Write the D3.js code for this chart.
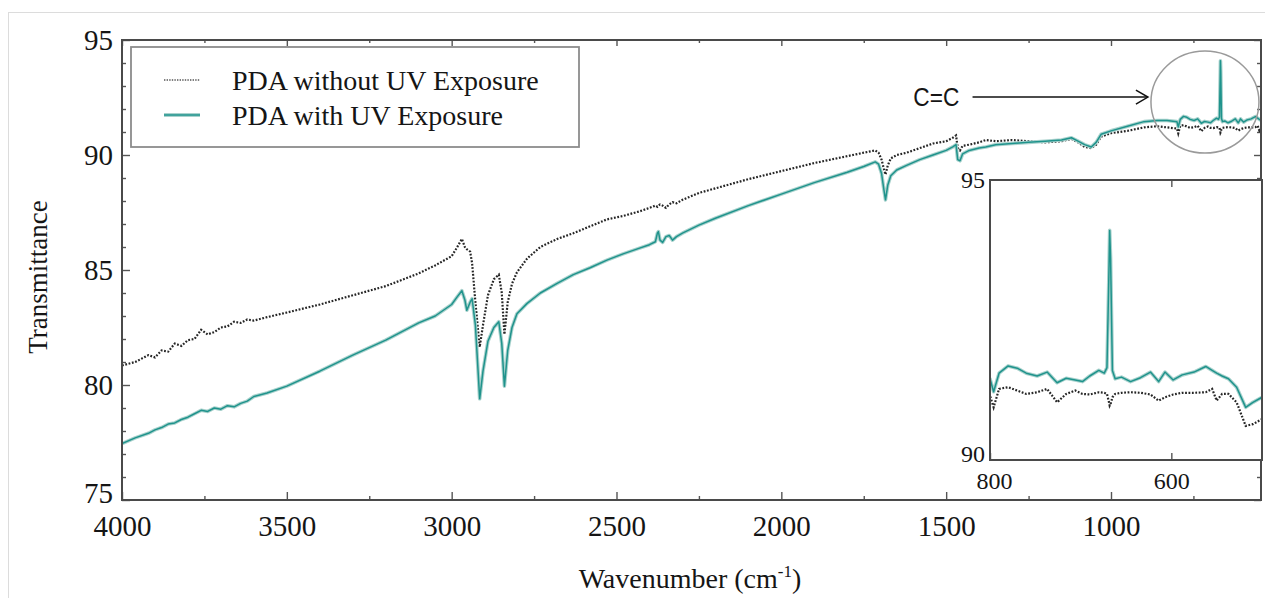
<!DOCTYPE html>
<html>
<head>
<meta charset="utf-8">
<script src="https://cdn.jsdelivr.net/npm/d3@7"></script>
<style>
  body { margin: 0; background: #fff; }
  svg { display: block; }
  svg text { font-family: "Liberation Serif", "Times New Roman", serif !important; fill: #151515; }
  svg text.sans { font-family: "Liberation Sans", Arial, sans-serif !important; }
</style>
</head>
<body>
<div id="chart"></div>
<script>
// FTIR spectra (cm-1 -> % transmittance)
const wavenumber = [
  4000, 3960, 3920, 3900, 3880, 3860, 3840, 3820, 3800, 3780, 3760, 3740, 3720, 3700, 3680, 3660, 3640, 3620, 3600, 3560, 3500,
  3400, 3300, 3200, 3100, 3050, 3000, 2985, 2969, 2960, 2954, 2944, 2938, 2928, 2915, 2905, 2890, 2872, 2857, 2848, 2840, 2830, 2817, 2802, 2771, 2731, 2680, 2631, 2580, 2529,
  2480, 2430, 2400, 2382, 2376, 2373, 2368, 2360, 2350, 2340, 2330, 2318, 2300, 2250, 2200, 2100, 2000, 1900, 1800,
  1750, 1715, 1705, 1696, 1689, 1684, 1677, 1668, 1650, 1620, 1580, 1540, 1500, 1480, 1470, 1465, 1458, 1450, 1430, 1400, 1380, 1350, 1300, 1250, 1200, 1150, 1120, 1100, 1080, 1060, 1045, 1030, 1000, 950, 900, 860, 830,
  800, 796, 790, 780, 770, 760, 748, 737, 726, 716, 706, 698, 690, 680, 674, 671, 669, 668, 667, 665, 662, 655, 645, 634, 623, 614, 607, 598, 588, 575, 562, 555, 550, 544, 537, 528, 518, 510, 500
];

const withoutUV = [
  80.85, 81.0, 81.3, 81.2, 81.5, 81.45, 81.8, 81.7, 81.95, 82.0, 82.4, 82.2, 82.3, 82.5, 82.55, 82.75, 82.7, 82.85, 82.8, 82.95, 83.15,
  83.5, 83.9, 84.3, 84.85, 85.2, 85.6, 85.95, 86.35, 86.0, 85.9, 85.8, 85.3, 83.6, 81.65, 82.6, 83.9, 84.6, 84.8, 84.0, 82.2, 83.6, 84.4, 84.9, 85.5, 86.0, 86.35, 86.6, 86.9, 87.2,
  87.35, 87.55, 87.7, 87.8, 87.75, 87.8, 87.85, 87.8, 87.7, 87.85, 87.95, 87.9, 88.05, 88.35, 88.55, 88.95, 89.3, 89.65, 89.95,
  90.1, 90.2, 90.1, 89.8, 89.4, 89.15, 89.55, 89.85, 90.0, 90.1, 90.3, 90.5, 90.6, 90.75, 90.85, 90.3, 90.2, 90.4, 90.45, 90.55, 90.65, 90.6, 90.65, 90.6, 90.55, 90.6, 90.7, 90.55, 90.35, 90.3, 90.45, 90.8, 90.95, 91.05, 91.2, 91.25, 91.2,
  91.15, 90.94, 91.27, 91.3, 91.24, 91.18, 91.21, 91.27, 91.03, 91.18, 91.24, 91.18, 91.17, 91.21, 91.2, 91.18, 91.05, 90.97, 91.0, 91.12, 91.18, 91.2, 91.21, 91.2, 91.17, 91.06, 91.12, 91.17, 91.2, 91.2, 91.21, 91.27, 91.06, 91.18, 91.18, 91.03, 90.61, 90.64, 90.73
];

const withUV = [
  77.45, 77.7, 77.9, 78.05, 78.15, 78.3, 78.35, 78.5, 78.6, 78.75, 78.9, 78.85, 79.0, 78.95, 79.1, 79.05, 79.2, 79.3, 79.5, 79.65, 79.95,
  80.6, 81.3, 81.95, 82.7, 83.0, 83.5, 83.8, 84.1, 83.7, 83.25, 83.6, 83.75, 82.6, 79.4, 80.6, 81.9, 82.5, 82.75, 81.8, 79.95, 81.5, 82.5, 83.1, 83.55, 84.0, 84.42, 84.8, 85.1, 85.43,
  85.7, 85.95, 86.1, 86.23, 86.6, 86.67, 86.3, 86.2, 86.45, 86.5, 86.3, 86.45, 86.6, 86.95, 87.25, 87.8, 88.3, 88.8, 89.25,
  89.5, 89.7, 89.6, 89.2, 88.5, 88.05, 88.7, 89.1, 89.35, 89.55, 89.8, 90.0, 90.2, 90.35, 90.45, 89.8, 89.75, 90.05, 90.2, 90.3, 90.35, 90.45, 90.5, 90.55, 90.6, 90.65, 90.75, 90.6, 90.45, 90.35, 90.55, 90.9, 91.05, 91.25, 91.45, 91.5, 91.5,
  91.45, 91.22, 91.55, 91.68, 91.64, 91.55, 91.5, 91.57, 91.38, 91.46, 91.43, 91.4, 91.5, 91.6, 91.55, 91.65, 93.2, 94.1, 93.6, 91.6, 91.45, 91.48, 91.4, 91.47, 91.57, 91.4, 91.57, 91.43, 91.52, 91.57, 91.67, 91.6, 91.55, 91.5, 91.45, 91.3, 90.94, 91.03, 91.12
];

const seriesNames = ["PDA without UV Exposure", "PDA with UV Exposure"];
const mainXLabels = [4000, 3500, 3000, 2500, 2000, 1500, 1000];
const mainYLabels = [75, 80, 85, 90, 95];
const insetXLabels = [800, 600];
const insetYLabels = [90, 95];
const bondLabel = "C=C";

const width = 1265;
const height = 598;
const plot = { left: 122, right: 1261, top: 40, bottom: 500 };
const inset = { left: 990, right: 1262, top: 180, bottom: 460 };
const teal = "#1f938c";
const tealHalo = "#a9d2cd";

const svg = d3
  .select("#chart")
  .append("svg")
  .attr("width", width)
  .attr("height", height)
  .attr("font-family", "Liberation Serif");

// light outer frame of the original figure
svg
  .append("rect")
  .attr("x", 8.5)
  .attr("y", 12.5)
  .attr("width", width)
  .attr("height", height)
  .attr("fill", "none")
  .attr("stroke", "#dcdcdc");

const x = d3.scaleLinear().domain([4000, 545]).range([plot.left, plot.right]);
const y = d3.scaleLinear().domain([75, 95]).range([plot.bottom, plot.top]);

const noUvData = d3.zip(wavenumber, withoutUV);
const uvData = d3.zip(wavenumber, withUV);

const defs = svg.append("defs");
defs
  .append("clipPath")
  .attr("id", "main-clip")
  .append("rect")
  .attr("x", plot.left)
  .attr("y", plot.top)
  .attr("width", plot.right - plot.left)
  .attr("height", plot.bottom - plot.top);
defs
  .append("clipPath")
  .attr("id", "inset-clip")
  .append("rect")
  .attr("x", inset.left)
  .attr("y", inset.top)
  .attr("width", inset.right - inset.left)
  .attr("height", inset.bottom - inset.top);

const drawSeries = (g, xs, ys, clipId) => {
  const line = d3
    .line()
    .x((d) => xs(d[0]))
    .y((d) => ys(d[1]));
  const lines = g.append("g").attr("clip-path", `url(#${clipId})`);
  lines
    .append("path")
    .datum(noUvData)
    .attr("d", line)
    .attr("fill", "none")
    .attr("stroke", "#262626")
    .attr("stroke-width", 2.2)
    .attr("stroke-dasharray", "1.8,1.6");
  lines
    .append("path")
    .datum(uvData)
    .attr("d", line)
    .attr("fill", "none")
    .attr("stroke", tealHalo)
    .attr("stroke-width", 3.6)
    .attr("stroke-linejoin", "round");
  lines
    .append("path")
    .datum(uvData)
    .attr("d", line)
    .attr("fill", "none")
    .attr("stroke", teal)
    .attr("stroke-width", 1.5)
    .attr("stroke-linejoin", "round");
};

// ---------- main axes ----------
const xTicks = d3.range(4000, 544, -250);
const yTicks = d3.range(75, 95.01, 1);

const styleAxis = (g) => {
  g.attr("font-family", null);
  g.select(".domain").remove();
  g.selectAll("line").attr("stroke", "#555").attr("stroke-width", 1.4);
  g.selectAll("text")
    .attr("font-size", 29)
    .attr("fill", "#151515")
    .attr("font-family", "Liberation Serif");
};

svg
  .append("g")
  .attr("transform", `translate(0,${plot.bottom})`)
  .call(
    d3
      .axisBottom(x)
      .tickValues(xTicks)
      .tickSize(-8)
      .tickPadding(13)
      .tickFormat((d) => (mainXLabels.includes(d) ? d : ""))
  )
  .call(styleAxis)
  .call((g) =>
    g
      .selectAll(".tick line")
      .attr("y2", (d) => (d % 500 === 0 ? -8 : -4))
  )
  .call((g) => g.selectAll("text").attr("dy", "0.78em"));

svg
  .append("g")
  .attr("transform", `translate(0,${plot.top})`)
  .call(d3.axisTop(x).tickValues(xTicks).tickSize(-6).tickFormat(""))
  .call(styleAxis)
  .call((g) =>
    g.selectAll(".tick line").attr("y2", (d) => (d % 500 === 0 ? 6 : 3))
  );

svg
  .append("g")
  .attr("transform", `translate(${plot.left},0)`)
  .call(
    d3
      .axisLeft(y)
      .tickValues(yTicks)
      .tickSize(-8)
      .tickPadding(9)
      .tickFormat((d) => (mainYLabels.includes(d) ? d : ""))
  )
  .call(styleAxis)
  .call((g) =>
    g.selectAll(".tick line").attr("x2", (d) => (d % 5 === 0 ? 8 : 4))
  )
  .call((g) =>
    g.selectAll("text").attr("dy", (d) => (d === 75 ? "0.1em" : "0.32em"))
  );

svg
  .append("g")
  .attr("transform", `translate(${plot.right},0)`)
  .call(d3.axisRight(y).tickValues(yTicks).tickSize(-4).tickFormat(""))
  .call(styleAxis)
  .call((g) =>
    g.selectAll(".tick line").attr("x2", (d) => (d % 5 === 0 ? -7 : -4))
  );

drawSeries(svg, x, y, "main-clip");

svg
  .append("rect")
  .attr("x", plot.left)
  .attr("y", plot.top)
  .attr("width", plot.right - plot.left)
  .attr("height", plot.bottom - plot.top)
  .attr("fill", "none")
  .attr("stroke", "#4a4a4a")
  .attr("stroke-width", 2);

// axis titles
svg
  .append("text")
  .attr("x", 690)
  .attr("y", 588)
  .attr("text-anchor", "middle")
  .attr("font-size", 28)
  .text("Wavenumber (cm")
  .call((t) =>
    t.append("tspan").attr("font-size", 17).attr("dy", -11).text("-1")
  )
  .call((t) => t.append("tspan").attr("dy", 11).text(")"));

svg
  .append("text")
  .attr("transform", "translate(47,277) rotate(-90)")
  .attr("text-anchor", "middle")
  .attr("font-size", 27)
  .text("Transmittance");

// ---------- legend ----------
const legend = svg.append("g").attr("transform", "translate(131,47)");
legend
  .append("rect")
  .attr("width", 448)
  .attr("height", 100)
  .attr("fill", "#fff")
  .attr("stroke", "#8c8c8c")
  .attr("stroke-width", 1.8);

const legendRows = legend
  .selectAll(".row")
  .data(seriesNames)
  .join("g")
  .attr("class", "row")
  .attr("transform", (d, i) => `translate(0,${33 + i * 35})`);

legendRows
  .filter((d, i) => i === 0)
  .append("line")
  .attr("x1", 33)
  .attr("x2", 69)
  .attr("stroke", "#555")
  .attr("stroke-width", 1.6)
  .attr("stroke-dasharray", "1.4,1.2");
legendRows
  .filter((d, i) => i === 1)
  .call((g) =>
    g
      .append("line")
      .attr("x1", 33)
      .attr("x2", 69)
      .attr("stroke", tealHalo)
      .attr("stroke-width", 4)
  )
  .call((g) =>
    g
      .append("line")
      .attr("x1", 33)
      .attr("x2", 69)
      .attr("stroke", teal)
      .attr("stroke-width", 1.6)
  );

legendRows
  .append("text")
  .attr("x", 101)
  .attr("y", 10)
  .attr("font-size", 28)
  .text((d) => d);

// ---------- annotation ----------
svg
  .append("ellipse")
  .attr("cx", x(715))
  .attr("cy", y(92.3))
  .attr("rx", 54)
  .attr("ry", 51)
  .attr("fill", "none")
  .attr("stroke", "#9a9a9a")
  .attr("stroke-width", 1.5);

const arrowY = y(92.52);
const tipX = x(888);
svg
  .append("line")
  .attr("x1", x(1420))
  .attr("x2", tipX)
  .attr("y1", arrowY)
  .attr("y2", arrowY)
  .attr("stroke", "#111")
  .attr("stroke-width", 1.5);
svg
  .append("path")
  .attr("d", `M${tipX - 12},${arrowY - 7}L${tipX},${arrowY}L${tipX - 12},${arrowY + 7}`)
  .attr("fill", "none")
  .attr("stroke", "#111")
  .attr("stroke-width", 1.5);

svg
  .append("text")
  .attr("class", "sans")
  .attr("x", x(1460))
  .attr("y", arrowY)
  .attr("dy", "0.36em")
  .attr("text-anchor", "end")
  .attr("font-size", 25)
  .attr("textLength", 46)
  .attr("lengthAdjust", "spacingAndGlyphs")
  .text(bondLabel);

// ---------- inset ----------
const ix = d3.scaleLinear().domain([800, 500]).range([inset.left, inset.right]);
const iy = d3.scaleLinear().domain([90, 95]).range([inset.bottom, inset.top]);

const insetG = svg.append("g");
insetG
  .append("rect")
  .attr("x", inset.left)
  .attr("y", inset.top)
  .attr("width", inset.right - inset.left)
  .attr("height", inset.bottom - inset.top)
  .attr("fill", "#fff");

drawSeries(insetG, ix, iy, "inset-clip");

insetG
  .append("g")
  .attr("transform", `translate(0,${inset.bottom})`)
  .call(
    d3
      .axisBottom(ix)
      .tickValues(insetXLabels)
      .tickSize(-7)
      .tickPadding(12)
      .tickFormat(d3.format("d"))
  )
  .call(styleAxis)
  .call((g) =>
    g
      .selectAll("text")
      .attr("font-size", 24)
      .attr("dy", "0.72em")
      .attr("dx", (d) => (d === 800 ? 4 : 0))
  );

insetG
  .append("g")
  .attr("transform", `translate(0,${inset.top})`)
  .call(d3.axisTop(ix).tickValues([600]).tickSize(-7).tickFormat(""))
  .call(styleAxis);

insetG
  .append("g")
  .attr("transform", `translate(${inset.left},0)`)
  .call(
    d3
      .axisLeft(iy)
      .tickValues(insetYLabels)
      .tickSize(0)
      .tickPadding(5)
      .tickFormat(d3.format("d"))
  )
  .call(styleAxis)
  .call((g) =>
    g
      .selectAll("text")
      .attr("font-size", 24)
      .attr("dy", (d) => (d === 90 ? "0.05em" : "0.32em"))
  );

insetG
  .append("rect")
  .attr("x", inset.left)
  .attr("y", inset.top)
  .attr("width", inset.right - inset.left)
  .attr("height", inset.bottom - inset.top)
  .attr("fill", "none")
  .attr("stroke", "#4a4a4a")
  .attr("stroke-width", 2);
</script>
</body>
</html>
